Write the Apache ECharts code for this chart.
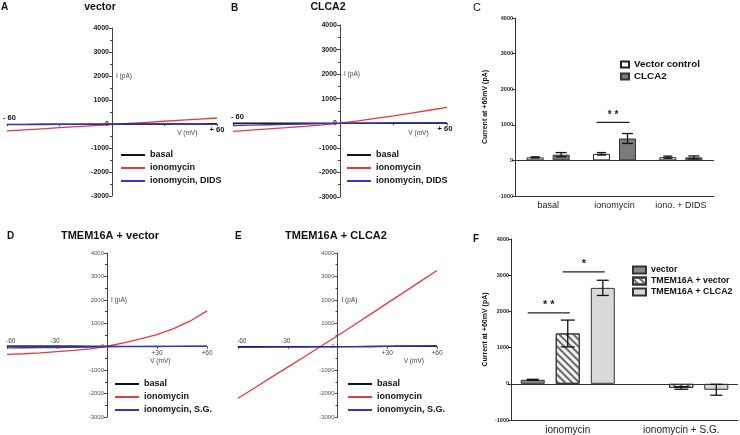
<!DOCTYPE html>
<html><head><meta charset="utf-8">
<script src="https://cdn.jsdelivr.net/npm/echarts@6/dist/echarts.min.js"></script>
<style>html,body{margin:0;padding:0;background:#fff}#c{width:740px;height:435px}</style>
</head><body><div id="c"></div>
<script>
// ---------- DATA ----------
const voltage = [-60,-50,-40,-30,-20,-10,0,10,20,30,40,50,60];
// Panel A: vector
const aBasal = [-15,-12,-10,-8,-6,-4,-2,0,2,4,6,8,10];
const aIono  = [-290,-245,-200,-155,-110,-65,-20,25,70,115,160,205,250];
const aDIDS  = [-30,-25,-20,-15,-12,-8,-5,-5,-6,-8,-10,-12,-15];
// Panel B: CLCA2
const bBasal = [10,10,8,6,5,3,0,5,10,12,15,18,20];
const bIono  = [-330,-280,-230,-180,-125,-65,10,100,200,300,410,530,650];
const bDIDS  = [-90,-75,-60,-45,-30,-15,0,5,10,15,20,25,30];
// Panel D: TMEM16A + vector
const dBasal = [40,38,35,32,30,25,20,15,15,15,15,15,15];
const dIono  = [-330,-300,-260,-210,-160,-90,20,160,330,520,770,1100,1530];
const dSG    = [-50,-45,-40,-35,-30,-20,-10,0,5,10,15,20,20];
// Panel E: TMEM16A + CLCA2
const eBasal = [0,0,0,0,0,0,0,5,10,15,20,25,30];
const eIono  = [-2200,-1760,-1310,-870,-430,20,470,930,1390,1860,2320,2790,3250];
const eSG    = [-30,-25,-20,-20,-15,-10,-5,0,10,20,30,40,50];
const ivYTicks = {min:-3000, max:4000, step:1000};

// Panel C
const cCats = ['basal','ionomycin','iono. + DIDS'];
const cVector = [85,185,90];
const cVectorErr = [15,35,30];
const cCLCA2 = [160,615,85];
const cCLCA2Err = [60,140,40];
const cSig = [[1, 1070, 0, 1]];
const cSigText = ['* *'];

// Panel F
const fCats = ['ionomycin','ionomycin + S.G.'];
const fVector = [110,'-'];
const fVectorErr = [15,0];
const fTV = [1390,-115];
const fTVErr = [370,35];
const fTC = [2650,-165];
const fTCErr = [210,150];
const fSig = [[0, 1960, 0, 1],[0, 3090, 1, 2]];
const fSigText = ['* *','*'];

// ---------- CHART ----------
const FONT = '"Liberation Sans", Arial, Helvetica, sans-serif';
const RED = '#e23c3c', BLUE = '#3535c8', BLACK = '#111';
const chart = echarts.init(document.getElementById('c'), null, {renderer:'canvas'});

const grids = [
  {left:7, top:28, width:210, height:168},    // A
  {left:233, top:25, width:214, height:172},  // B
  {left:515, top:18, width:199, height:178},  // C
  {left:7, top:253, width:200, height:164},   // D
  {left:238, top:253, width:199, height:164}, // E
  {left:511, top:239, width:227, height:181}  // F
];

const xAxes = [], yAxes = [], series = [], legends = [];
const plain = v => String(v);

function ivPanel(gi, bold, traces, legendPos){
  xAxes.push({gridIndex:gi, type:'value', min:-60, max:60, interval:30,
    axisLine:{onZero:true, lineStyle:{color:'#444', width:1}},
    axisTick:{show:true, length:2, lineStyle:{color:'#444'}},
    axisLabel:{show:false}, splitLine:{show:false}});
  yAxes.push({gridIndex:gi, type:'value', min:ivYTicks.min, max:ivYTicks.max, interval:ivYTicks.step,
    position:'left', offset: -grids[gi].width/2,
    axisLine:{show:true, onZero:false, lineStyle:{color:'#444', width:1}},
    axisTick:{show:true, length:3, lineStyle:{color:'#444'}},
    minorTick:{show:true, splitNumber:2, length:2, lineStyle:{color:'#444'}},
    axisLabel:{fontFamily:FONT, fontSize: bold?7:6, fontWeight: bold?'bold':'normal',
      color: bold?'#222':'#555', margin:3, formatter:plain},
    splitLine:{show:false}});
  traces.forEach(t => {
    series.push({type:'line', name:t.name, xAxisIndex:gi, yAxisIndex:gi,
      data: voltage.map((v,k)=>[v, t.values[k]]), showSymbol:false, symbol:'none',
      lineStyle:{color:t.color, width:1.3}, itemStyle:{color:t.color}, z:t.z||2, silent:true});
  });
  legends.push({left:legendPos[0], top:legendPos[1], orient:'vertical', padding:0, itemGap:1,
    itemWidth:24, itemHeight:2, icon:'rect',
    data: traces.map(t=>t.name),
    textStyle:{fontFamily:FONT, fontSize:9, fontWeight:'bold', color:'#111', lineHeight:12}});
}

ivPanel(0, true, [
  {name:'basal', values:aBasal, color:BLACK, z:3},
  {name:'ionomycin', values:aIono, color:RED, z:2},
  {name:'ionomycin, DIDS', values:aDIDS, color:BLUE, z:4}], [121,149]);
ivPanel(1, true, [
  {name:'basal', values:bBasal, color:BLACK, z:3},
  {name:'ionomycin', values:bIono, color:RED, z:2},
  {name:'ionomycin, DIDS', values:bDIDS, color:BLUE, z:4}], [347,149]);

// ---- bar panel helpers ----
function barCenterOffset(nBars, barW, gapFrac, s){
  const total = nBars*barW + (nBars-1)*gapFrac*barW;
  return -total/2 + barW/2 + s*barW*(1+gapFrac);
}
function errRender(nBars, barW, gapFrac, s, capW){
  return function(params, api){
    const c = api.value(0), m = api.value(1), e = api.value(2);
    const base = api.coord([c, m]);
    const x = base[0] + barCenterOffset(nBars, barW, gapFrac, s);
    const yT = api.coord([c, m+e])[1], yB = api.coord([c, m-e])[1];
    const st = {stroke:'#111', lineWidth:1.3};
    return {type:'group', children:[
      {type:'line', shape:{x1:x, y1:yT, x2:x, y2:yB}, style:st},
      {type:'line', shape:{x1:x-capW/2, y1:yT, x2:x+capW/2, y2:yT}, style:st},
      {type:'line', shape:{x1:x-capW/2, y1:yB, x2:x+capW/2, y2:yB}, style:st}]};
  };
}
function sigRender(nBars, barW, gapFrac, texts, fontSize){
  return function(params, api){
    const c = api.value(0), v = api.value(1), b0 = api.value(2), b1 = api.value(3);
    const p = api.coord([c, v]);
    const x0 = p[0] + barCenterOffset(nBars, barW, gapFrac, b0) - 5;
    const x1 = p[0] + barCenterOffset(nBars, barW, gapFrac, b1) + 2;
    return {type:'group', children:[
      {type:'line', shape:{x1:x0, y1:p[1], x2:x1, y2:p[1]}, style:{stroke:'#222', lineWidth:1.3}},
      {type:'text', style:{text:texts[params.dataIndex], x:(x0+x1)/2, y:p[1]-2,
        textAlign:'center', textVerticalAlign:'bottom',
        font:'bold '+fontSize+'px '+FONT, fill:'#222'}}]};
  };
}
function barAxes(gi, cats, labelSize, nameGap){
  xAxes.push({gridIndex:gi, type:'category', data:cats,
    axisLine:{onZero:false, lineStyle:{color:'#333', width:1}},
    axisTick:{alignWithLabel:true, length:3, lineStyle:{color:'#333'}},
    axisLabel:{fontFamily:FONT, fontSize:labelSize, color:'#222', margin:5, interval:0, hideOverlap:false}});
  yAxes.push({gridIndex:gi, type:'value', min:-1000, max:4000, interval:1000,
    axisLine:{show:true, lineStyle:{color:'#333', width:1}},
    axisTick:{show:true, length:3, lineStyle:{color:'#333'}},
    axisLabel:{fontFamily:FONT, fontSize:5.5, fontWeight:'bold', color:'#222', margin:2, formatter:plain},
    splitLine:{show:false},
    name:'Current at +60mV (pA)', nameLocation:'middle', nameRotate:90, nameGap:nameGap,
    nameTextStyle:{fontFamily:FONT, fontSize:7, fontWeight:'bold', color:'#111'}});
}

// ---- Panel C ----
barAxes(2, cCats, 9, 26);
const cW = 17, cGap = 0.53;
series.push({type:'bar', name:'Vector control', xAxisIndex:2, yAxisIndex:2, data:cVector,
  barWidth:cW, barGap:(cGap*100)+'%', itemStyle:{color:'#ffffff', borderColor:'#222', borderWidth:1},
  markLine:{silent:true, symbol:'none', label:{show:false}, lineStyle:{color:'#333', width:1, type:'solid'},
    data:[{yAxis:0}]}});
series.push({type:'bar', name:'CLCA2', xAxisIndex:2, yAxisIndex:2, data:cCLCA2,
  barWidth:cW, barGap:(cGap*100)+'%', itemStyle:{color:'#7b7b7b', borderColor:'#333', borderWidth:1}});
series.push({type:'custom', xAxisIndex:2, yAxisIndex:2, z:5,
  data:cVector.map((m,i)=>[i,m,cVectorErr[i]]), renderItem:errRender(2,cW,cGap,0,9), silent:true});
series.push({type:'custom', xAxisIndex:2, yAxisIndex:2, z:5,
  data:cCLCA2.map((m,i)=>[i,m,cCLCA2Err[i]]), renderItem:errRender(2,cW,cGap,1,11), silent:true});
series.push({type:'custom', xAxisIndex:2, yAxisIndex:2, z:5,
  data:cSig, renderItem:sigRender(2,cW,cGap,cSigText,10), silent:true});
legends.push({left:620, top:59, orient:'vertical', padding:0, itemGap:1, itemWidth:8, itemHeight:6, icon:'rect',
  data:['Vector control','CLCA2'],
  textStyle:{fontFamily:FONT, fontSize:9.8, fontWeight:'bold', color:'#111', lineHeight:11}});

ivPanel(3, false, [
  {name:'basal', values:dBasal, color:'#333', z:3},
  {name:'ionomycin', values:dIono, color:RED, z:2},
  {name:'ionomycin, S.G.', values:dSG, color:BLUE, z:4}], [115,378]);
ivPanel(4, false, [
  {name:'basal', values:eBasal, color:BLACK, z:3},
  {name:'ionomycin', values:eIono, color:RED, z:2},
  {name:'ionomycin, S.G.', values:eSG, color:BLUE, z:4}], [348,378]);

// ---- Panel F ----
barAxes(5, fCats, 10, 22);
const fW = 24, fGap = 0.46;
series.push({type:'bar', name:'vector', xAxisIndex:5, yAxisIndex:5, data:fVector,
  barWidth:fW, barGap:(fGap*100)+'%', itemStyle:{color:'#8a8a8a', borderColor:'#333', borderWidth:1},
  markLine:{silent:true, symbol:'none', label:{show:false}, lineStyle:{color:'#333', width:1, type:'solid'},
    data:[{yAxis:0}]}});
series.push({type:'bar', name:'TMEM16A + vector', xAxisIndex:5, yAxisIndex:5, data:fTV,
  barWidth:fW, barGap:(fGap*100)+'%',
  itemStyle:{color:'#f2f2f2', borderColor:'#333', borderWidth:1,
    decal:{symbol:'rect', symbolSize:1, dashArrayX:[1,0], dashArrayY:[1.2,2.2], rotation:Math.PI/4, color:'#6a6a6a'}}});
series.push({type:'bar', name:'TMEM16A + CLCA2', xAxisIndex:5, yAxisIndex:5, data:fTC,
  barWidth:fW, barGap:(fGap*100)+'%', itemStyle:{color:'#d9d9d9', borderColor:'#333', borderWidth:1}});
series.push({type:'custom', xAxisIndex:5, yAxisIndex:5, z:5,
  data:fVector.map((m,i)=>[i,m,fVectorErr[i]]).filter(d=>d[1]!=='-'), renderItem:errRender(3,fW,fGap,0,12), silent:true});
series.push({type:'custom', xAxisIndex:5, yAxisIndex:5, z:5,
  data:fTV.map((m,i)=>[i,m,fTVErr[i]]), renderItem:errRender(3,fW,fGap,1,14), silent:true});
series.push({type:'custom', xAxisIndex:5, yAxisIndex:5, z:5,
  data:fTC.map((m,i)=>[i,m,fTCErr[i]]), renderItem:errRender(3,fW,fGap,2,12), silent:true});
series.push({type:'custom', xAxisIndex:5, yAxisIndex:5, z:5,
  data:fSig, renderItem:sigRender(3,fW,fGap,fSigText,11), silent:true});
legends.push({left:632, top:265, orient:'vertical', padding:0, itemGap:1, itemWidth:13, itemHeight:7, icon:'rect',
  data:['vector','TMEM16A + vector','TMEM16A + CLCA2'],
  textStyle:{fontFamily:FONT, fontSize:8.8, fontWeight:'bold', color:'#111', lineHeight:10}});

// Static titles and panel letters
const panelTitles = [
  {text:'vector', x:100, y:7, size:10.5},
  {text:'CLCA2', x:328, y:7, size:10.5},
  {text:'TMEM16A + vector', x:110, y:236, size:11},
  {text:'TMEM16A + CLCA2', x:336, y:236, size:11}
];
const panelLetters = [
  {text:'A', x:1, y:7}, {text:'B', x:231, y:8}, {text:'C', x:473, y:8},
  {text:'D', x:7, y:236}, {text:'E', x:235, y:236}, {text:'F', x:473, y:239}
];
function staticGraphics(){
  const g = [];
  panelTitles.forEach(t => g.push({type:'text', x:t.x, y:t.y, style:{text:t.text, textAlign:'center',
    textVerticalAlign:'middle', font:'bold '+t.size+'px '+FONT, fill:'#111'}}));
  panelLetters.forEach(t => g.push({type:'text', x:t.x, y:t.y, style:{text:t.text, textAlign:'left',
    textVerticalAlign:'middle', font:(t.text==='C'?'normal 11px ':'bold 10px ')+FONT, fill:'#111'}}));
  return g;
}

const option = {
  animation:false, backgroundColor:'#fff',
  grid:grids.map(g=>Object.assign({containLabel:false, outerBoundsMode:'none'}, g)),
  xAxis:xAxes, yAxis:yAxes, series:series, legend:legends,
  graphic:staticGraphics()
};
chart.setOption(option);

// axis annotation labels for IV panels, positioned through the axis scales
const ivLabels = [
  {gi:0, items:[
    {t:'- 60', at:[-60,0], dx:-4, dy:-2, a:'left', v:'bottom', b:true},
    {t:'+ 60', at:[60,0], dx:0, dy:2, a:'center', v:'top', b:true},
    {t:'V (mV)', at:[43,0], dx:0, dy:6, a:'center', v:'top'},
    {t:'I (pA)', at:[0,2000], dx:4, dy:0, a:'left', v:'middle'}]},
  {gi:1, items:[
    {t:'- 60', at:[-60,0], dx:-2, dy:-2, a:'left', v:'bottom', b:true},
    {t:'+ 60', at:[60,0], dx:-2, dy:2, a:'center', v:'top', b:true},
    {t:'V (mV)', at:[44,0], dx:0, dy:6, a:'center', v:'top'},
    {t:'I (pA)', at:[0,2000], dx:4, dy:0, a:'left', v:'middle'}]},
  {gi:3, items:[
    {t:'-60', at:[-60,0], dx:-1, dy:-2, a:'left', v:'bottom'},
    {t:'-30', at:[-30,0], dx:-2, dy:-2, a:'center', v:'bottom'},
    {t:'+30', at:[30,0], dx:0, dy:3, a:'center', v:'top'},
    {t:'+60', at:[60,0], dx:0, dy:3, a:'center', v:'top'},
    {t:'V (mV)', at:[32,0], dx:0, dy:11, a:'center', v:'top'},
    {t:'I (pA)', at:[0,2000], dx:4, dy:0, a:'left', v:'middle'}]},
  {gi:4, items:[
    {t:'-60', at:[-60,0], dx:-1, dy:-2, a:'left', v:'bottom'},
    {t:'-30', at:[-30,0], dx:-2, dy:-2, a:'center', v:'bottom'},
    {t:'+30', at:[30,0], dx:0, dy:3, a:'center', v:'top'},
    {t:'+60', at:[60,0], dx:0, dy:3, a:'center', v:'top'},
    {t:'V (mV)', at:[46,0], dx:0, dy:11, a:'center', v:'top'},
    {t:'I (pA)', at:[0,2000], dx:4, dy:0, a:'left', v:'middle'}]}
];
const extra = staticGraphics();
ivLabels.forEach(p => p.items.forEach(it => {
  const px = chart.convertToPixel({gridIndex:p.gi}, it.at);
  const bold = it.b;
  extra.push({type:'text', x:px[0]+it.dx, y:px[1]+it.dy, style:{text:it.t, textAlign:it.a,
    textVerticalAlign:it.v, font:(bold?'bold 7.5px ':'normal 6.5px ')+FONT, fill: bold?'#111':'#444'}});
}));
chart.setOption({graphic:extra}, {replaceMerge:['graphic']});
</script></body></html>
